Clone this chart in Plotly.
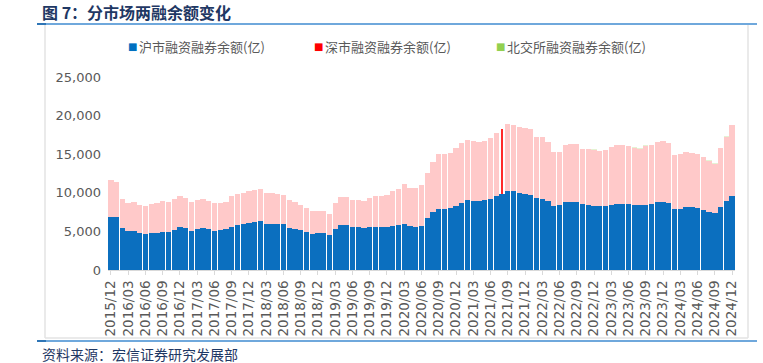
import plotly.graph_objects as go

# ---- data (亿元), monthly samples ----
months = [f"{2015 + (11 + i) // 12}/{(11 + i) % 12 + 1:02d}" for i in range(109)]  # 2015/12 .. 2024/12

sh = [6900, 6850, 5400, 5090, 5090, 4750, 4660, 4750, 4790, 4920, 4920, 5180,
      5570, 5480, 5090, 5310, 5440, 5310, 5090, 5180, 5350, 5610, 5780, 5960,
      6040, 6220, 6390, 5960, 6000, 5960, 5910, 5440, 5260, 5180, 4920, 4700,
      4750, 4750, 4490, 5350, 5870, 5780, 5570, 5570, 5480, 5570, 5530, 5530,
      5570, 5740, 5780, 6000, 5650, 5610, 5700, 6690, 7550, 7860, 7900, 8030,
      8250, 8630, 9020, 9000, 9000, 9020, 9150, 9580, 9800, 10190, 10190, 9930,
      9880, 9710, 9320, 9150, 8890, 8290, 8460, 8810, 8850, 8760, 8500, 8420,
      8330, 8290, 8290, 8370, 8550, 8550, 8500, 8460, 8370, 8460, 8500, 8760,
      8810, 8680, 7900, 7900, 8120, 8120, 7990, 7770, 7510, 7380, 8200, 8980,
      9650]

sz = [4755, 4550, 3750, 3630, 3760, 3670, 3630, 3800, 3840, 4060, 3840, 3970,
      4010, 3890, 3760, 3760, 3800, 3670, 3540, 3540, 3500, 3970, 4060, 3970,
      4150, 4140, 4060, 3970, 3970, 3880, 3800, 3630, 3540, 3280, 3110, 2980,
      2890, 2890, 2760, 3370, 3630, 3720, 3500, 3500, 3500, 3710, 4050, 4050,
      4140, 4450, 4710, 5140, 5010, 5010, 5310, 5830, 6480, 7120, 7120, 7160,
      7510, 7770, 7820, 7660, 7580, 7730, 7990, 8210, 8500, 8720, 8540, 8550,
      8560, 8510, 7900, 8030, 7690, 6950, 6820, 7330, 7470, 7555, 7112, 7190,
      7278, 7146, 7234, 7500, 7656, 7612, 7530, 7398, 7356, 7644, 7692, 7822,
      7854, 7776, 6970, 7090, 7168, 7037, 7036, 6875, 6654, 6385, 7545, 8310,
      9088]

bse = [0] * 81 + [5, 8, 10, 12, 14, 16, 20, 24, 28, 30, 32, 34, 36, 38, 38, 36,
                  34, 30, 30, 32, 33, 34, 35, 36, 45, 55, 60, 62]

names = ["沪市融资融券余额(亿)", "深市融资融券余额(亿)", "北交所融资融券余额(亿)"]
legend_colors = ["#0070C0", "#FF0000", "#92D050"]

tick_vals = months[::3]

# ---- figure ----
W, H = 763, 363
ML, MR, MT, MB = 108, 28, 77, 93
PW, PH = W - ML - MR, H - MT - MB


def px(x):
    return (x - ML) / PW


def py(y):
    return (H - MB - y) / PH


sz_colors = ["#FFC9C9"] * len(months)
sz_widths = [0.92] * len(months)
sz_colors[68] = "#FF2A2A"
sz_widths[68] = 0.42

fig = go.Figure()
fig.add_trace(go.Bar(x=months, y=sh, marker=dict(color="#0B6FBF", line=dict(width=0)),
                     name=names[0]))
fig.add_trace(go.Bar(x=months, y=sz, width=sz_widths,
                     marker=dict(color=sz_colors, line=dict(width=0)), name=names[1]))
fig.add_trace(go.Bar(x=months, y=bse, marker=dict(color="rgba(146,208,80,0.25)", line=dict(width=0)),
                     name=names[2]))

navy = "#1F3864"
grey = "#595959"

annotations = [
    dict(text="<b>图 7：分市场两融余额变化</b>", x=px(40), y=py(12), xref="paper", yref="paper",
         xanchor="left", yanchor="middle", showarrow=False,
         font=dict(size=16, color=navy, family="Noto Sans CJK SC")),
    dict(text="资料来源：宏信证券研究发展部", x=px(40), y=py(354), xref="paper", yref="paper",
         xanchor="left", yanchor="middle", showarrow=False,
         font=dict(size=14, color=navy, family="Noto Sans CJK SC")),
]
# legend (swatch + label)
for xs, n, c in zip([132, 318, 500], names, legend_colors):
    annotations.append(dict(text="■", x=px(xs), y=py(46), xref="paper", yref="paper",
                            xanchor="center", yanchor="middle", showarrow=False,
                            font=dict(size=10, color=c, family="DejaVu Sans")))
    annotations.append(dict(text=n, x=px(xs + 5), y=py(46), xref="paper", yref="paper",
                            xanchor="left", yanchor="middle", showarrow=False,
                            font=dict(size=13, color=grey, family="Noto Sans CJK SC")))

fig.update_layout(
    width=W, height=H,
    margin=dict(l=ML, r=MR, t=MT, b=MB, autoexpand=False),
    barmode="stack", bargap=0.08,
    plot_bgcolor="white", paper_bgcolor="white",
    font=dict(family="Noto Sans CJK SC", color=grey),
    showlegend=False,
    xaxis=dict(type="category", tickmode="array", tickvals=tick_vals, ticktext=tick_vals,
               tickangle=-90, tickfont=dict(family="DejaVu Sans", size=13.5, color=grey),
               showline=True, linecolor="#D9D9D9", linewidth=1,
               ticks="outside", ticklen=4, tickcolor="#D9D9D9", showgrid=False,
               range=[-0.5, len(months) - 0.5]),
    yaxis=dict(range=[0, 25000], tickvals=[0, 5000, 10000, 15000, 20000, 25000],
               tickformat=",", tickfont=dict(family="DejaVu Sans", size=13, color=grey),
               showgrid=False, zeroline=False, showline=False, ticks="", ticklabelstandoff=6),
    annotations=annotations,
    shapes=[
        dict(type="line", xref="paper", yref="paper", x0=px(37), x1=px(757), y0=py(24), y1=py(24),
             line=dict(color="#6FA8DC", width=2)),
        dict(type="line", xref="paper", yref="paper", x0=px(37), x1=px(46), y0=py(24), y1=py(24),
             line=dict(color="#2E75B6", width=2)),
        dict(type="line", xref="paper", yref="paper", x0=px(45), x1=px(45), y0=py(25), y1=py(338),
             line=dict(color="#E3E3E3", width=1.5)),
        dict(type="line", xref="paper", yref="paper", x0=px(748), x1=px(748), y0=py(25), y1=py(338),
             line=dict(color="#E3E3E3", width=1.5)),
        dict(type="line", xref="paper", yref="paper", x0=px(45), x1=px(748), y0=py(338), y1=py(338),
             line=dict(color="#E3E3E3", width=1.5)),
        dict(type="line", xref="paper", yref="paper", x0=px(37), x1=px(757), y0=py(341), y1=py(341),
             line=dict(color="#6FA8DC", width=2)),
        dict(type="line", xref="paper", yref="paper", x0=px(37), x1=px(46), y0=py(341), y1=py(341),
             line=dict(color="#2E75B6", width=2)),
    ],
)

fig.write_html("out.html", config={"displayModeBar": False},
               post_script="document.body.style.margin='0';document.body.style.overflow='hidden';")
